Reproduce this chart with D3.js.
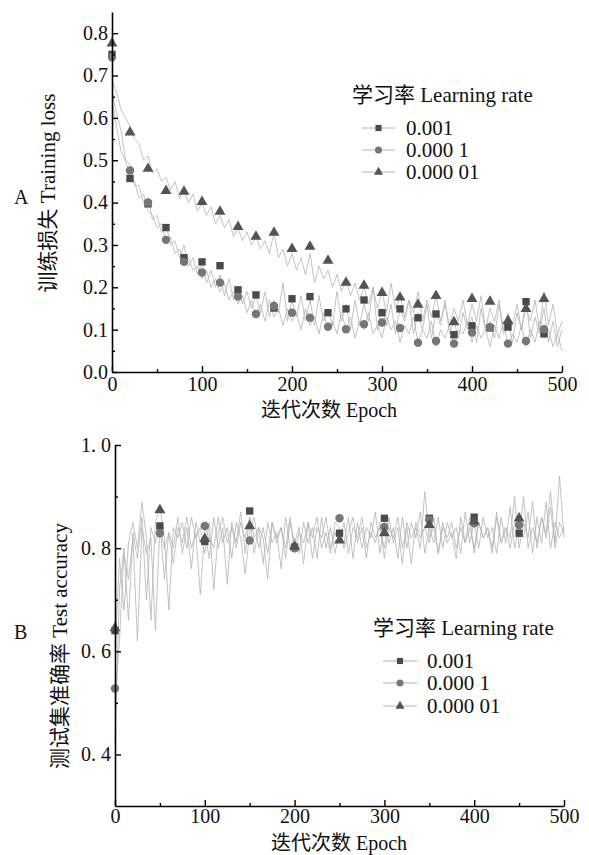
<!DOCTYPE html>
<html><head><meta charset="utf-8">
<script src="https://cdn.jsdelivr.net/npm/d3@7"></script>
<style>
html,body{margin:0;padding:0;background:#fff;}
svg text{font-family:"Liberation Serif","Noto Sans CJK SC",serif;fill:#111;}
</style></head>
<body><svg id="c" width="589" height="855"></svg>
<script>
// ---------- Data ----------
const seriesNames = ["0.001", "0.000 1", "0.000 01"];
const titleLegend = "学习率 Learning rate";

// Panel A: training loss, lines sampled every 5 epochs (0..500)
const lossEpochs = d3.range(0, 501, 5);
const lossLine001 = [0.66,0.61,0.57,0.50,0.49,0.44,0.44,0.40,0.41,0.36,0.37,0.33,0.35,0.30,0.31,0.27,0.30,0.25,0.27,0.23,0.26,0.21,0.24,0.20,0.23,0.18,0.22,0.17,0.20,0.16,0.19,0.15,0.18,0.14,0.19,0.13,0.17,0.14,0.21,0.12,0.17,0.13,0.18,0.12,0.17,0.11,0.18,0.12,0.15,0.11,0.19,0.12,0.16,0.10,0.17,0.11,0.16,0.12,0.20,0.10,0.15,0.11,0.16,0.09,0.15,0.12,0.17,0.09,0.14,0.10,0.16,0.08,0.14,0.11,0.17,0.09,0.12,0.08,0.14,0.10,0.13,0.07,0.15,0.10,0.12,0.08,0.16,0.09,0.12,0.07,0.14,0.10,0.17,0.08,0.13,0.09,0.15,0.07,0.12,0.06,0.10];
const lossLine0001 = [0.64,0.58,0.52,0.50,0.46,0.45,0.41,0.42,0.38,0.37,0.34,0.35,0.31,0.32,0.28,0.29,0.26,0.27,0.24,0.25,0.22,0.24,0.20,0.22,0.19,0.21,0.17,0.19,0.16,0.18,0.14,0.17,0.13,0.16,0.12,0.17,0.13,0.15,0.11,0.15,0.12,0.14,0.10,0.15,0.11,0.13,0.09,0.14,0.10,0.12,0.09,0.14,0.10,0.13,0.08,0.12,0.10,0.14,0.09,0.11,0.08,0.13,0.10,0.12,0.07,0.11,0.09,0.13,0.07,0.10,0.08,0.12,0.06,0.10,0.08,0.11,0.06,0.10,0.09,0.12,0.07,0.11,0.08,0.10,0.06,0.11,0.08,0.12,0.06,0.09,0.07,0.11,0.06,0.10,0.07,0.12,0.08,0.10,0.06,0.09,0.05];
const lossLine00001 = [0.69,0.66,0.62,0.60,0.58,0.55,0.54,0.50,0.51,0.47,0.48,0.45,0.46,0.43,0.45,0.41,0.43,0.40,0.42,0.38,0.40,0.37,0.39,0.35,0.37,0.34,0.36,0.32,0.34,0.31,0.33,0.30,0.32,0.29,0.31,0.28,0.33,0.27,0.29,0.25,0.28,0.24,0.27,0.23,0.28,0.21,0.25,0.22,0.24,0.20,0.23,0.19,0.22,0.18,0.21,0.17,0.20,0.16,0.20,0.15,0.19,0.14,0.21,0.15,0.18,0.13,0.17,0.14,0.19,0.12,0.17,0.13,0.18,0.12,0.16,0.11,0.15,0.12,0.17,0.11,0.16,0.12,0.18,0.10,0.15,0.12,0.17,0.10,0.14,0.11,0.16,0.10,0.15,0.12,0.17,0.10,0.19,0.11,0.16,0.09,0.12];
// Panel A markers every 20 epochs
const lossMarkEpochs = d3.range(0, 481, 20);
const lossMark001 = [0.75,0.457,0.397,0.341,0.27,0.26,0.251,0.194,0.182,0.151,0.173,0.178,0.14,0.149,0.17,0.14,0.149,0.128,0.137,0.088,0.109,0.104,0.106,0.166,0.09];
const lossMark0001 = [0.743,0.476,0.40,0.312,0.26,0.235,0.211,0.178,0.137,0.156,0.14,0.128,0.107,0.101,0.113,0.117,0.104,0.069,0.073,0.067,0.093,0.106,0.067,0.073,0.101];
const lossMark00001 = [0.776,0.566,0.48,0.428,0.426,0.402,0.379,0.343,0.320,0.329,0.291,0.296,0.263,0.211,0.204,0.187,0.176,0.159,0.18,0.118,0.173,0.166,0.121,0.149,0.173];

// Panel B: test accuracy, lines sampled every 5 epochs (0..500)
const accEpochs = d3.range(0, 501, 5);
const accLine001 = [0.42,0.72,0.80,0.66,0.83,0.78,0.86,0.70,0.84,0.81,0.85,0.74,0.83,0.80,0.86,0.79,0.84,0.76,0.85,0.81,0.83,0.78,0.86,0.80,0.84,0.73,0.85,0.81,0.87,0.79,0.86,0.82,0.84,0.77,0.85,0.81,0.83,0.76,0.86,0.80,0.82,0.79,0.85,0.81,0.84,0.78,0.86,0.80,0.84,0.79,0.83,0.81,0.86,0.78,0.85,0.80,0.84,0.82,0.87,0.79,0.85,0.81,0.84,0.78,0.86,0.80,0.85,0.82,0.87,0.79,0.84,0.81,0.86,0.80,0.85,0.82,0.84,0.79,0.87,0.81,0.85,0.80,0.86,0.82,0.84,0.79,0.86,0.81,0.88,0.80,0.84,0.82,0.87,0.79,0.86,0.81,0.89,0.80,0.85,0.82,0.84];
const accLine0001 = [0.50,0.62,0.79,0.74,0.82,0.62,0.84,0.79,0.82,0.64,0.84,0.80,0.83,0.77,0.84,0.81,0.86,0.80,0.83,0.71,0.84,0.82,0.80,0.86,0.81,0.84,0.78,0.85,0.82,0.75,0.83,0.86,0.80,0.84,0.79,0.85,0.82,0.84,0.78,0.85,0.81,0.84,0.77,0.85,0.82,0.86,0.80,0.83,0.79,0.85,0.84,0.80,0.83,0.86,0.81,0.84,0.78,0.85,0.82,0.84,0.80,0.86,0.81,0.84,0.77,0.85,0.82,0.84,0.80,0.91,0.82,0.84,0.79,0.85,0.81,0.83,0.78,0.86,0.81,0.84,0.80,0.85,0.82,0.84,0.79,0.86,0.81,0.84,0.80,0.85,0.82,0.90,0.80,0.84,0.81,0.86,0.82,0.88,0.80,0.85,0.83];
const accLine00001 = [0.60,0.78,0.68,0.81,0.85,0.80,0.89,0.82,0.66,0.85,0.88,0.82,0.68,0.84,0.82,0.85,0.80,0.86,0.82,0.84,0.79,0.85,0.72,0.83,0.86,0.81,0.84,0.80,0.85,0.82,0.86,0.79,0.84,0.82,0.74,0.85,0.81,0.84,0.80,0.86,0.79,0.83,0.81,0.85,0.78,0.84,0.82,0.86,0.80,0.83,0.81,0.85,0.79,0.84,0.82,0.86,0.80,0.83,0.81,0.85,0.78,0.84,0.82,0.86,0.80,0.84,0.77,0.85,0.82,0.84,0.81,0.86,0.79,0.84,0.82,0.85,0.80,0.84,0.81,0.86,0.79,0.85,0.82,0.84,0.80,0.87,0.81,0.84,0.82,0.90,0.80,0.85,0.82,0.89,0.80,0.86,0.83,0.91,0.81,0.94,0.82];
// Panel B markers every 50 epochs
const accMarkEpochs = d3.range(0, 451, 50);
const accMark001 = [0.64,0.843,0.813,0.872,0.802,0.829,0.858,0.858,0.86,0.829];
const accMark0001 = [0.528,0.829,0.843,0.815,0.800,0.858,0.841,0.855,0.848,0.845];
const accMark00001 = [0.645,0.874,0.818,0.843,0.803,0.815,0.829,0.845,0.852,0.858];

// Tick labels
const lossTicks = [0,0.1,0.2,0.3,0.4,0.5,0.6,0.7,0.8];
const lossTickLabels = ["0.0","0.1","0.2","0.3","0.4","0.5","0.6","0.7","0.8"];
const accTicks = [0.4,0.6,0.8,1.0];
const accTickLabels = ["0. 4","0. 6","0. 8","1. 0"];
const epochTicks = [0,100,200,300,400,500];

// ---------- Drawing ----------
const svg = d3.select("#c");
const LINE = "#b4b4b4";
const COLORS = ["#4a4a4a", "#767676", "#535353"];
const SYMS = [d3.symbolSquare, d3.symbolCircle, d3.symbolTriangle];
const SIZES = [54, 56, 52];

function panel(opts) {
  const g = svg.append("g");
  const x = d3.scaleLinear().domain([0, 500]).range(opts.xr);
  const y = d3.scaleLinear().domain(opts.yd).range(opts.yr);

  // lines
  const line = d3.line().x((d, i) => x(opts.lineEpochs[i])).y(d => y(d));
  opts.lines.forEach(arr => {
    g.append("path").datum(arr).attr("d", line)
      .attr("fill", "none").attr("stroke", LINE).attr("stroke-width", 0.8);
  });
  // markers
  opts.marks.forEach((arr, s) => {
    g.selectAll(null).data(arr).enter().append("path")
      .attr("d", d3.symbol().type(SYMS[s]).size(SIZES[s]))
      .attr("transform", (d, i) => `translate(${x(opts.markEpochs[i])},${y(d)})`)
      .attr("fill", COLORS[s]);
  });

  // axes
  const xAxis = d3.axisBottom(x).tickValues(epochTicks).tickSize(-6).tickSizeOuter(0).tickPadding(opts.xPad)
    .tickFormat(d3.format("d"));
  const gx = g.append("g").attr("transform", `translate(0,${opts.yr[0]})`).call(xAxis);
  const xMinor = d3.axisBottom(x).tickValues([50,150,250,350,450]).tickSize(-3).tickSizeOuter(0).tickFormat("");
  g.append("g").attr("transform", `translate(0,${opts.yr[0]})`).call(xMinor).select(".domain").remove();

  const yAxis = d3.axisLeft(y).tickValues(opts.yTicks).tickSize(-6).tickSizeOuter(0).tickPadding(4)
    .tickFormat((d, i) => opts.yLabels[i]);
  const gy = g.append("g").attr("transform", `translate(${opts.xr[0]},0)`).call(yAxis);
  const yMinor = d3.axisLeft(y).tickValues(opts.yMinor).tickSize(-3).tickSizeOuter(0).tickFormat("");
  g.append("g").attr("transform", `translate(${opts.xr[0]},0)`).call(yMinor).select(".domain").remove();

  g.selectAll(".domain").attr("stroke", "#000").attr("stroke-width", 1.6);
  g.selectAll(".tick line").attr("stroke", "#000").attr("stroke-width", 1.4);
  g.selectAll(".tick text").style("font-size", "20px").attr("fill", "#111")
    .style("font-family", '"Liberation Serif","Noto Sans CJK SC",serif');
  gx.selectAll(".tick text").attr("dy", "0.72em");

  // titles
  g.append("text").attr("x", opts.xTitle[0]).attr("y", opts.xTitle[1])
    .attr("text-anchor", "middle").style("font-size", "20px").text("迭代次数 Epoch");
  g.append("text").attr("transform", `translate(${opts.yTitle[0]},${opts.yTitle[1]}) rotate(-90)`)
    .attr("text-anchor", "middle").attr("dy", "0.35em").style("font-size", "21px").text(opts.yTitleText);
  g.append("text").attr("x", 14).attr("y", opts.letterY).attr("dy", "0.35em")
    .style("font-size", "20px").text(opts.letter);

  // legend
  const L = opts.legend;
  g.append("text").attr("x", L.tx).attr("y", L.ty).attr("dy", "0.35em")
    .style("font-size", "21px").text(titleLegend);
  seriesNames.forEach((nm, s) => {
    const ry = L.rows[s];
    g.append("line").attr("x1", L.lx1).attr("x2", L.lx2).attr("y1", ry).attr("y2", ry)
      .attr("stroke", LINE).attr("stroke-width", 1);
    g.append("path").attr("d", d3.symbol().type(SYMS[s]).size(SIZES[s] * 0.7))
      .attr("transform", `translate(${(L.lx1 + L.lx2) / 2},${ry})`).attr("fill", COLORS[s]);
    g.append("text").attr("x", L.textX).attr("y", ry).attr("dy", "0.35em")
      .style("font-size", "21px").text(nm);
  });
}

panel({
  xr: [112, 562], yd: [0, 0.85], yr: [372, 12], xPad: 5,
  lineEpochs: lossEpochs, lines: [lossLine001, lossLine0001, lossLine00001],
  markEpochs: lossMarkEpochs, marks: [lossMark001, lossMark0001, lossMark00001],
  yTicks: lossTicks, yLabels: lossTickLabels,
  yMinor: [0.05,0.15,0.25,0.35,0.45,0.55,0.65,0.75],
  xTitle: [329, 417], yTitle: [48, 193], yTitleText: "训练损失 Training loss",
  letter: "A", letterY: 197,
  legend: { tx: 352, ty: 95, rows: [128, 150, 172], lx1: 362, lx2: 395, textX: 406 }
});

panel({
  xr: [115, 564], yd: [0.3, 1.0], yr: [806, 445], xPad: 3,
  lineEpochs: accEpochs, lines: [accLine001, accLine0001, accLine00001],
  markEpochs: accMarkEpochs, marks: [accMark001, accMark0001, accMark00001],
  yTicks: accTicks, yLabels: accTickLabels,
  yMinor: [0.5,0.7,0.9],
  xTitle: [339, 850], yTitle: [60, 646], yTitleText: "测试集准确率 Test accuracy",
  letter: "B", letterY: 632,
  legend: { tx: 373, ty: 628, rows: [661, 683, 706], lx1: 383, lx2: 417, textX: 427 }
});
</script></body></html>
